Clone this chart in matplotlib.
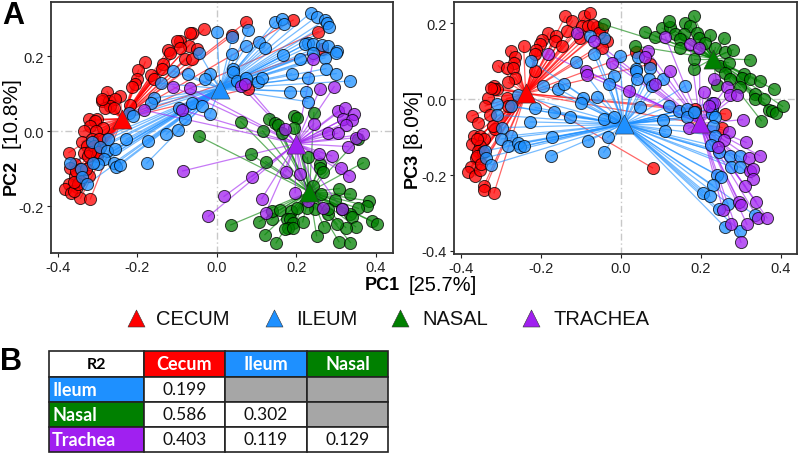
#!/usr/bin/env python
"""PCoA panels with centroid spiders and an R2 table."""

import matplotlib

matplotlib.use("Agg")
import matplotlib.pyplot as plt
from matplotlib.patches import Rectangle

groups = ["CECUM", "ILEUM", "NASAL", "TRACHEA"]
colors = ["#FF0000", "#1E90FF", "#008000", "#A020F0"]

cecum_pc12 = [
    (0.074, 0.292), (0.192, 0.297), (0.255, 0.266), (-0.033, 0.272), (-0.063, 0.263), (-0.067, 0.263),
    (0.039, 0.256), (-0.092, 0.241), (-0.100, 0.241), (-0.071, 0.228), (-0.050, 0.219), (-0.092, 0.223),
    (-0.123, 0.217), (-0.117, 0.210), (-0.079, 0.194), (-0.063, 0.192), (-0.180, 0.185), (-0.136, 0.179),
    (-0.138, 0.167), (-0.197, 0.163), (-0.166, 0.149), (-0.159, 0.139), (-0.201, 0.140), (-0.205, 0.125),
    (-0.213, 0.119), (-0.276, 0.106), (-0.243, 0.094), (-0.289, 0.081), (-0.272, 0.081), (-0.255, 0.085),
    (-0.268, 0.068), (-0.280, 0.063), (-0.259, 0.063), (-0.218, 0.069), (-0.322, 0.034), (-0.301, 0.032),
    (-0.307, 0.028), (-0.318, 0.014), (-0.285, 0.010), (-0.335, 0.001), (-0.305, 0.001), (-0.339, -0.028),
    (-0.314, -0.021), (-0.297, -0.021), (-0.326, -0.039), (-0.335, -0.057), (-0.372, -0.057), (-0.325, -0.066),
    (-0.301, -0.066), (-0.356, -0.088), (-0.368, -0.097), (-0.343, -0.101), (-0.322, -0.119), (-0.356, -0.119),
    (-0.372, -0.141), (-0.381, -0.155), (-0.343, -0.132), (-0.351, -0.150), (-0.367, -0.164), (-0.343, -0.179),
    (-0.318, -0.181), (-0.360, -0.159), (0.079, 0.114), (0.264, 0.219), (-0.355, -0.105), (-0.350, -0.140),
    (-0.360, -0.135), (-0.330, -0.100), (-0.310, -0.040), (-0.300, -0.055), (-0.320, -0.055), (-0.290, 0.087),
]
ileum_pc12 = [
    (0.000, 0.266), (0.039, 0.252), (0.079, 0.270), (0.146, 0.292), (0.163, 0.299), (0.170, 0.285),
    (0.236, 0.316), (0.251, 0.306), (0.272, 0.297), (0.278, 0.288), (0.283, 0.279), (0.105, 0.238),
    (0.121, 0.223), (0.074, 0.228), (0.038, 0.205), (0.167, 0.203), (0.230, 0.236), (0.222, 0.232),
    (0.243, 0.232), (0.264, 0.229), (0.280, 0.228), (0.301, 0.214), (0.300, 0.210), (0.243, 0.210),
    (0.272, 0.196), (0.208, 0.194), (-0.044, 0.208), (-0.110, 0.161), (-0.073, 0.152), (-0.017, 0.152),
    (-0.029, 0.140), (0.040, 0.167), (0.040, 0.158), (0.050, 0.134), (0.073, 0.141), (0.103, 0.132),
    (0.113, 0.143), (0.188, 0.154), (0.228, 0.143), (0.274, 0.167), (0.300, 0.154), (0.335, 0.134),
    (0.184, 0.106), (0.223, 0.106), (0.228, 0.079), (-0.141, 0.128), (-0.159, 0.088), (-0.166, 0.075),
    (-0.222, 0.050), (-0.211, 0.041), (-0.096, 0.061), (-0.063, 0.076), (-0.038, 0.068), (-0.017, 0.047),
    (-0.079, 0.032), (-0.098, 0.003), (-0.127, -0.008), (-0.172, -0.026), (-0.228, -0.021), (-0.274, -0.021),
    (-0.314, -0.030), (-0.295, -0.042), (-0.276, -0.054), (-0.255, -0.048), (-0.283, -0.075), (-0.300, -0.088),
    (-0.311, -0.086), (-0.368, -0.086), (-0.341, -0.101), (-0.339, -0.121), (-0.326, -0.141), (-0.258, -0.084),
    (-0.254, -0.095), (-0.244, -0.091), (-0.176, -0.085),
]
nasal_pc12 = [
    (-0.044, -0.014), (0.060, 0.026), (0.130, 0.034), (0.146, 0.023), (0.155, 0.016), (0.195, 0.041),
    (0.201, 0.036), (0.244, 0.050), (0.194, 0.010), (0.115, 0.001), (0.163, -0.006), (0.356, -0.021),
    (0.086, -0.062), (0.123, -0.081), (0.228, -0.070), (0.259, -0.088), (0.259, -0.097), (0.268, -0.108),
    (0.368, -0.084), (0.243, -0.146), (0.261, -0.168), (0.308, -0.153), (0.336, -0.168), (0.297, -0.183),
    (0.383, -0.186), (0.377, -0.199), (0.356, -0.206), (0.335, -0.221), (0.339, -0.230), (0.389, -0.239),
    (0.404, -0.248), (0.349, -0.255), (0.324, -0.257), (0.303, -0.248), (0.269, -0.255), (0.280, -0.221),
    (0.247, -0.208), (0.226, -0.206), (0.251, -0.279), (0.307, -0.295), (0.336, -0.297), (0.149, -0.298),
    (0.121, -0.276), (0.035, -0.250), (0.107, -0.241), (0.138, -0.235), (0.138, -0.212), (0.159, -0.210),
    (0.186, -0.212), (0.176, -0.235), (0.184, -0.235), (0.191, -0.244), (0.180, -0.257), (0.172, -0.261),
    (0.192, -0.257), (0.216, -0.242), (0.201, -0.204), (0.316, -0.208), (0.280, -0.208),
]
trachea_pc12 = [
    (0.243, 0.192), (0.295, 0.119), (0.259, 0.112), (-0.110, 0.119), (-0.067, 0.115), (0.061, 0.121),
    (0.071, 0.125), (-0.182, 0.056), (-0.088, 0.057), (0.305, 0.054), (0.322, 0.063), (0.345, 0.047),
    (0.318, 0.032), (0.341, 0.030), (0.326, 0.017), (0.244, 0.020), (0.172, 0.005), (0.279, -0.004),
    (0.304, -0.005), (0.351, -0.017), (0.367, -0.008), (0.331, -0.041), (0.258, -0.061), (0.289, -0.066),
    (0.311, -0.097), (0.332, -0.119), (0.173, -0.108), (0.209, -0.115), (0.088, -0.121), (-0.086, -0.106),
    (0.018, -0.174), (-0.021, -0.227), (0.113, -0.180), (0.197, -0.164), (0.123, -0.217), (0.230, -0.186),
    (0.268, -0.206), (0.314, -0.208),
]

cecum_pc13 = [
    (-0.139, 0.218), (-0.121, 0.206), (-0.092, 0.218), (-0.077, 0.228), (-0.098, 0.193), (-0.081, 0.193),
    (-0.060, 0.189), (-0.048, 0.184), (-0.135, 0.180), (-0.181, 0.174), (-0.162, 0.167), (-0.164, 0.154),
    (-0.198, 0.156), (-0.202, 0.145), (-0.212, 0.130), (-0.214, 0.118), (-0.148, 0.140), (-0.102, 0.162),
    (-0.035, 0.154), (-0.048, 0.136), (-0.243, 0.140), (-0.275, 0.127), (-0.264, 0.112), (-0.268, 0.096),
    (-0.306, 0.088), (-0.285, 0.083), (-0.270, 0.082), (-0.264, 0.057), (-0.281, 0.044), (-0.214, 0.075),
    (-0.317, 0.035), (-0.310, 0.028), (-0.318, 0.026), (-0.331, 0.004), (-0.285, 0.002), (-0.339, -0.018),
    (-0.372, -0.044), (-0.328, -0.042), (-0.356, -0.063), (-0.314, -0.079), (-0.367, -0.096), (-0.352, -0.096),
    (-0.343, -0.105), (-0.372, -0.118), (-0.353, -0.123), (-0.356, -0.136), (-0.362, -0.156), (-0.375, -0.178),
    (-0.381, -0.191), (-0.364, -0.202), (-0.352, -0.186), (-0.343, -0.230), (-0.341, -0.239), (-0.317, -0.247),
    (0.079, -0.181), (0.038, 0.123), (0.072, 0.092), (0.261, -0.039), (0.253, -0.075), (0.186, -0.026),
    (-0.281, -0.018), (-0.360, -0.105), (-0.345, -0.140), (-0.360, -0.150), (-0.350, -0.170), (-0.070, 0.195),
    (-0.055, 0.175), (-0.320, -0.070), (-0.325, 0.030),
]
ileum_pc13 = [
    (-0.077, 0.167), (-0.042, 0.160), (-0.068, 0.118), (-0.002, 0.114), (-0.112, 0.099), (-0.224, 0.101),
    (0.042, 0.110), (0.072, 0.083), (0.037, 0.079), (0.038, 0.075), (-0.018, 0.060), (0.040, 0.053),
    (0.069, 0.053), (0.078, 0.035), (0.105, 0.053), (0.161, 0.035), (-0.030, 0.039), (-0.195, 0.035),
    (-0.158, 0.028), (-0.141, 0.039), (-0.256, 0.011), (-0.060, 0.006), (-0.095, 0.002), (-0.100, -0.011),
    (0.048, -0.020), (0.121, -0.018), (-0.310, -0.013), (-0.274, -0.018), (-0.310, -0.042), (-0.214, -0.022),
    (-0.167, -0.035), (-0.127, -0.046), (-0.227, -0.060), (-0.042, -0.051), (-0.017, -0.048), (0.104, -0.055),
    (0.111, -0.085), (0.144, -0.032), (0.165, -0.025), (0.186, -0.033), (0.165, -0.048), (0.182, -0.035),
    (0.228, -0.009), (0.228, -0.026), (0.228, -0.039), (0.236, -0.046), (0.230, -0.072), (0.236, -0.096),
    (0.225, -0.121), (0.244, -0.140), (-0.296, -0.075), (-0.274, -0.096), (-0.299, -0.105), (-0.283, -0.123),
    (-0.258, -0.116), (-0.253, -0.127), (-0.242, -0.123), (-0.339, -0.136), (-0.337, -0.154), (-0.325, -0.173),
    (-0.171, -0.101), (-0.174, -0.149), (-0.081, -0.110), (-0.033, -0.101), (-0.043, -0.140), (0.240, -0.199),
    (0.250, -0.206), (0.229, -0.226), (0.205, -0.246), (0.223, -0.256), (0.268, -0.275), (0.244, -0.289),
    (0.261, -0.338), (0.298, -0.348), (0.272, -0.149), (0.298, -0.151), (0.275, -0.178), (0.298, -0.180),
    (0.334, -0.305),
]
nasal_pc13 = [
    (-0.043, 0.197), (0.059, 0.178), (0.086, 0.165), (0.036, 0.140), (0.103, 0.187), (0.123, 0.189),
    (0.119, 0.206), (0.161, 0.200), (0.182, 0.219), (0.173, 0.193), (0.136, 0.171), (0.157, 0.171),
    (0.148, 0.158), (0.148, 0.136), (0.190, 0.175), (0.194, 0.162), (0.223, 0.168), (0.257, 0.160),
    (0.211, 0.149), (0.236, 0.136), (0.261, 0.123), (0.280, 0.130), (0.322, 0.104), (0.182, 0.079),
    (0.182, 0.107), (0.248, 0.088), (0.269, 0.096), (0.261, 0.068), (0.273, 0.053), (0.307, 0.066),
    (0.303, 0.057), (0.323, 0.053), (0.348, 0.048), (0.382, 0.026), (0.240, 0.037), (0.336, 0.013),
    (0.336, 0.000), (0.357, 0.000), (0.369, -0.028), (0.378, -0.031), (0.388, -0.037), (0.404, -0.019),
    (0.351, -0.057), (0.298, 0.031),
]
trachea_pc13 = [
    (-0.110, 0.175), (-0.066, 0.154), (-0.181, 0.118), (-0.021, 0.095), (-0.087, 0.075), (-0.085, 0.063),
    (0.019, 0.022), (0.068, 0.127), (0.061, 0.112), (0.086, 0.039), (0.122, 0.073), (0.111, 0.164),
    (0.172, 0.145), (0.196, 0.136), (0.232, 0.053), (0.265, 0.033), (0.207, 0.020), (0.273, 0.011),
    (0.290, 0.011), (0.232, -0.009), (0.219, -0.018), (0.169, -0.077), (0.304, -0.054), (0.269, -0.086),
    (0.257, -0.108), (0.243, -0.125), (0.313, -0.114), (0.321, -0.154), (0.347, -0.149), (0.323, -0.189),
    (0.329, -0.184), (0.329, -0.211), (0.311, -0.230), (0.294, -0.270), (0.300, -0.279), (0.338, -0.270),
    (0.255, -0.292), (0.275, -0.329), (0.315, -0.330), (0.342, -0.313), (0.365, -0.313), (0.300, -0.377),
]

centroids_pc12 = [(-0.238, 0.034), (0.008, 0.114), (0.233, -0.162), (0.199, -0.033)]
centroids_pc13 = [(-0.238, 0.015), (0.007, -0.066), (0.230, 0.107), (0.198, -0.064)]

x_ticks = [-0.4, -0.2, 0.0, 0.2, 0.4]
pc2_ticks = [-0.2, 0.0, 0.2]
pc3_ticks = [-0.4, -0.2, 0.0, 0.2]

table_cols = ["R2", "Cecum", "Ileum", "Nasal"]
table_rows = ["Ileum", "Nasal", "Trachea"]
table_values = [["0.199", None, None], ["0.586", "0.302", None], ["0.403", "0.119", "0.129"]]

W, H = 800, 456
FONT = "Liberation Sans"
TABLE_FONT = "Lato"


def draw_panel(fig, box, point_sets, centroids, yticks, xlim, ylim):
    left, top, right, bottom = box
    ax = fig.add_axes([left / W, 1 - bottom / H, (right - left) / W, (bottom - top) / H])
    ax.axhline(0, color="#c8c8c8", lw=1, ls=(0, (5, 2, 1, 2)), zorder=0)
    ax.axvline(0, color="#c8c8c8", lw=1, ls=(0, (5, 2, 1, 2)), zorder=0)
    for points, cent, color in zip(point_sets, centroids, colors):
        for x, y in points:
            ax.plot([cent[0], x], [cent[1], y], color=color, lw=0.9, alpha=0.6, zorder=1)
    for i, (points, color) in enumerate(zip(point_sets, colors)):
        ax.scatter([p[0] for p in points], [p[1] for p in points], s=76, color=color, alpha=0.75,
                   edgecolors="black", linewidths=0.7, zorder=2 + i)
    for i, (cent, color) in enumerate(zip(centroids, colors)):
        ax.scatter(cent[0], cent[1], s=190, marker="^", color=color, edgecolors="#333333",
                   linewidths=0.4, zorder=7 + i)
    ax.set_xlim(*xlim)
    ax.set_ylim(*ylim)
    ax.set_xticks(x_ticks)
    ax.set_xticklabels([f"{t:.1f}" for t in x_ticks])
    ax.set_yticks(yticks)
    ax.set_yticklabels([f"{t:.1f}" for t in yticks])
    ax.tick_params(labelsize=10.5, length=3, width=0.8, colors="#222222", pad=2)
    for spine in ax.spines.values():
        spine.set_linewidth(1.3)
        spine.set_color("#333333")
    return ax


def main():
    plt.rcParams["font.family"] = [FONT, "DejaVu Sans"]
    fig = plt.figure(figsize=(W / 100, H / 100), dpi=100)

    draw_panel(fig, (51, 3, 393, 254), [cecum_pc12, ileum_pc12, nasal_pc12, trachea_pc12],
               centroids_pc12, pc2_ticks, (-0.417, 0.443), (-0.325, 0.345))
    draw_panel(fig, (454, 3, 797, 255), [cecum_pc13, ileum_pc13, nasal_pc13, trachea_pc13],
               centroids_pc13, pc3_ticks, (-0.417, 0.44), (-0.408, 0.256))

    # overlay in pixel coordinates for labels, legend and table
    over = fig.add_axes([0, 0, 1, 1], zorder=20)
    over.set_xlim(0, W)
    over.set_ylim(H, 0)
    over.axis("off")

    over.text(2, 16, "A", fontsize=22, fontweight="bold", va="center")
    over.text(0, 362, "B", fontsize=22, fontweight="bold", va="center")

    over.text(382, 286, "PC1", fontsize=13, fontweight="bold", va="center", ha="center")
    over.text(443, 286, "[25.7%]", fontsize=14.5, va="center", ha="center")
    over.text(11, 177, "PC2", fontsize=13, fontweight="bold", rotation=90, va="center", ha="center")
    over.text(11, 113, "[10.8%]", fontsize=15, rotation=90, va="center", ha="center")
    over.text(412, 170, "PC3", fontsize=13, fontweight="bold", rotation=90, va="center", ha="center")
    over.text(412, 118, "[8.0%]", fontsize=15, rotation=90, va="center", ha="center")

    for group, color, tri_x, text_x in zip(groups, colors, (136, 274, 400, 531), (156, 296, 422, 553)):
        over.scatter(tri_x, 319, s=150, marker="^", color=color, edgecolors="#333333", linewidths=0.4)
        over.text(text_x, 320, group, fontsize=14.5, va="center", color="#111111")

    col_x = [49, 143.5, 225, 307, 388]
    row_y = [352, 378, 403, 428, 453]
    cell_colors = ["white"] + colors[:3]
    for j, name in enumerate(table_cols):
        over.add_patch(Rectangle((col_x[j], row_y[0]), col_x[j + 1] - col_x[j], row_y[1] - row_y[0],
                                 facecolor=cell_colors[j], edgecolor="#222222", lw=1.2))
        over.text((col_x[j] + col_x[j + 1]) / 2, (row_y[0] + row_y[1]) / 2, name, family=TABLE_FONT,
                  fontsize=13 if j else 11.5, fontweight="bold", color="white" if j else "black",
                  ha="center", va="center")
    for i, name in enumerate(table_rows):
        y0, y1 = row_y[i + 1], row_y[i + 2]
        over.add_patch(Rectangle((col_x[0], y0), col_x[1] - col_x[0], y1 - y0, facecolor=colors[i + 1],
                                 edgecolor="#222222", lw=1.2))
        over.text(col_x[0] + 3, (y0 + y1) / 2, name, family=TABLE_FONT, fontsize=13, fontweight="bold",
                  color="white", va="center")
        for j, value in enumerate(table_values[i]):
            over.add_patch(Rectangle((col_x[j + 1], y0), col_x[j + 2] - col_x[j + 1], y1 - y0,
                                     facecolor="white" if value else "#A6A6A6", edgecolor="#222222", lw=1.2))
            if value:
                over.text((col_x[j + 1] + col_x[j + 2]) / 2, (y0 + y1) / 2, value, family=TABLE_FONT,
                          fontsize=12.5, ha="center", va="center", color="#111111")

    fig.savefig("out.png", dpi=100)
    plt.close(fig)


if __name__ == "__main__":
    main()
